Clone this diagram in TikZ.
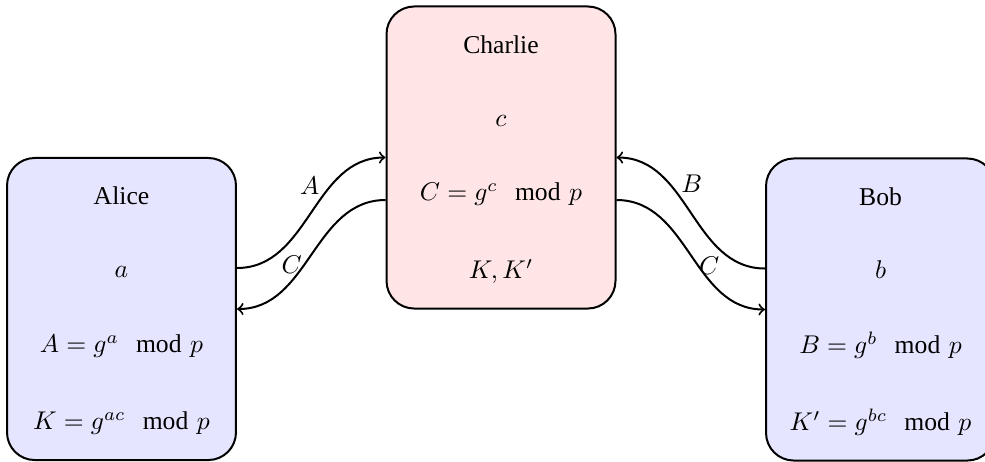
\documentclass[tikz,border=0pt]{standalone}
\usepackage{amsmath}
\usepackage{fontspec}
\setmainfont{Liberation Serif}
\usetikzlibrary{calc}
\tikzset{
  party/.style={draw=black, line width=0.78pt, rounded corners=10.8pt,
    minimum width=89.3pt, minimum height=117.8pt, inner sep=0pt},
  alicebox/.style={party, fill=blue!10},
  charliebox/.style={party, fill=red!10},
  row/.style={anchor=base, inner sep=0pt},
  msg/.style={->, line width=0.78pt},
  lbl/.style={inner sep=0pt}
}
\begin{document}
\begin{tikzpicture}[x=0.39pt, y=-0.39pt]
\useasboundingbox (0,0) rectangle (985,461);
\node[alicebox] (alice) at (121.5,309) {};
\node[charliebox] (charlie) at (501,157.5) {};
\node[alicebox] (bob) at (880.5,309.5) {};

\node[row] (aname) at ($(alice.north)+(0,48)$) {Alice};
\node[row] (asec) at ($(alice.north)+(0,121)$) {$a$};
\node[row] (apub) at ($(alice.north)+(0,196)$) {$A = g^{a} \mod p$};
\node[row] (akey) at ($(alice.north)+(0,273)$) {$K = g^{ac} \mod p$};

\node[row] (cname) at ($(charlie.north)+(0,48)$) {Charlie};
\node[row] (csec) at ($(charlie.north)+(0,121)$) {$c$};
\node[row] (cpub) at ($(charlie.north)+(0,195)$) {$C = g^{c} \mod p$};
\node[row] (ckey) at ($(charlie.north)+(0,273)$) {$K, K'$};

\node[row] (bname) at ($(bob.north)+(0,48)$) {Bob};
\node[row] (bsec) at ($(bob.north)+(0,121)$) {$b$};
\node[row] (bpub) at ($(bob.north)+(0,196)$) {$B = g^{b} \mod p$};
\node[row] (bkey) at ($(bob.north)+(0,273)$) {$K' = g^{bc} \mod p$};

\draw[msg] ($(alice.east)+(0,-41)$) to[out=0, in=180]
  node[lbl, pos=0.5, xshift=-0.6pt, yshift=10.7pt] (lA) {$A$} (charlie.west);
\draw[msg] ($(charlie.west)+(0,42.5)$) to[out=180, in=0]
  node[lbl, pos=0.5, xshift=-7.6pt, yshift=-3.9pt] (lC1) {$C$} (alice.east);
\draw[msg] ($(bob.west)+(0,-41)$) to[out=180, in=0]
  node[lbl, pos=0.5, xshift=0.4pt, yshift=11.5pt] (lB) {$B$} (charlie.east);
\draw[msg] ($(charlie.east)+(0,42.5)$) to[out=0, in=180]
  node[lbl, pos=0.5, xshift=7.2pt, yshift=-4.1pt] (lC2) {$C$} (bob.west);
\end{tikzpicture}
\end{document}
